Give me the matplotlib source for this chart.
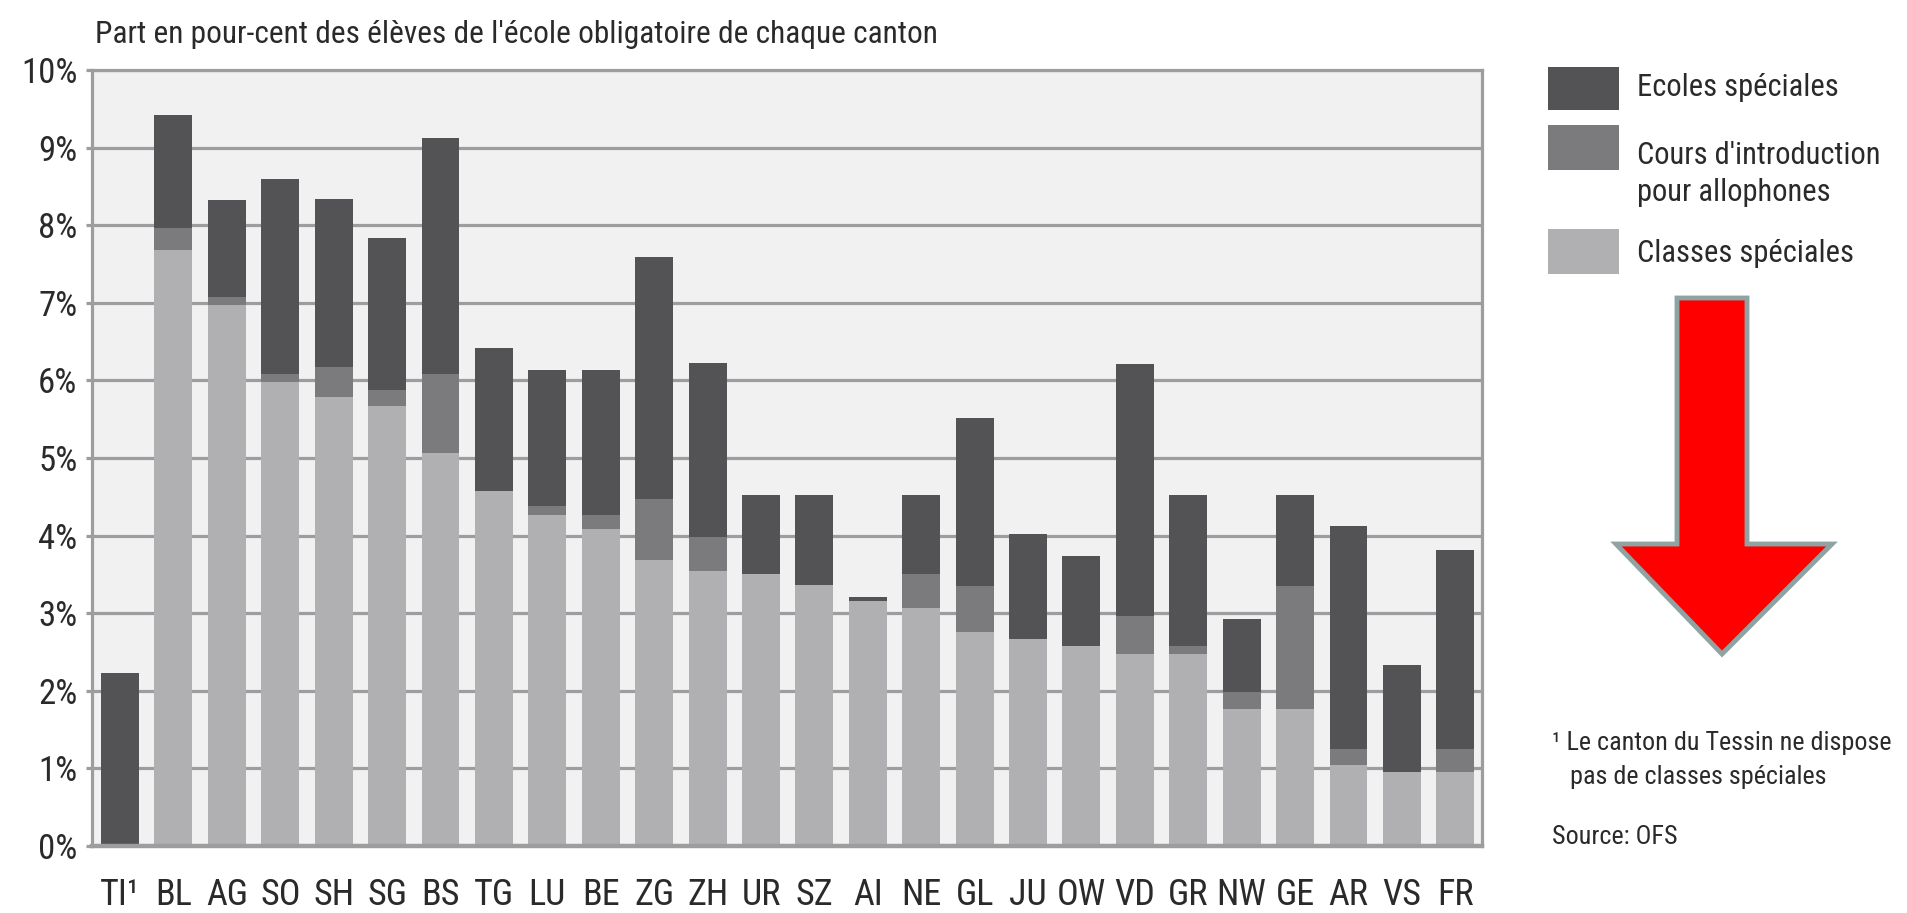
import numpy as np
import matplotlib
matplotlib.use("Agg")
import matplotlib.pyplot as plt
from matplotlib import font_manager as fm
from matplotlib.patches import Rectangle, Polygon

# ---------------- data ----------------
cantons = ["TI¹", "BL", "AG", "SO", "SH", "SG", "BS", "TG", "LU", "BE", "ZG", "ZH", "UR",
           "SZ", "AI", "NE", "GL", "JU", "OW", "VD", "GR", "NW", "GE", "AR", "VS", "FR"]
classes_speciales = [0.00, 7.68, 6.97, 5.98, 5.78, 5.67, 5.07, 4.57, 4.27, 4.08, 3.69, 3.54, 3.50,
                     3.36, 3.16, 3.07, 2.76, 2.67, 2.58, 2.47, 2.47, 1.77, 1.77, 1.05, 0.95, 0.95]
cours_allophones = [0.00, 0.29, 0.10, 0.10, 0.39, 0.20, 1.01, 0.00, 0.11, 0.19, 0.78, 0.44, 0.00,
                    0.00, 0.00, 0.43, 0.59, 0.00, 0.00, 0.50, 0.11, 0.21, 1.58, 0.20, 0.00, 0.30]
ecoles_speciales = [2.23, 1.45, 1.25, 2.52, 2.17, 1.96, 3.04, 1.85, 1.75, 1.86, 3.12, 2.24, 1.02,
                    1.16, 0.05, 1.02, 2.17, 1.35, 1.16, 3.24, 1.94, 0.94, 1.17, 2.88, 1.38, 2.56]
series_names = ["Ecoles spéciales", "Cours d'introduction\npour allophones", "Classes spéciales"]
yticks = [0, 1, 2, 3, 4, 5, 6, 7, 8, 9, 10]
ytick_labels = ["0%", "1%", "2%", "3%", "4%", "5%", "6%", "7%", "8%", "9%", "10%"]
title = "Part en pour-cent des élèves de l'école obligatoire de chaque canton"
footnote = "¹ Le canton du Tessin ne dispose\n   pas de classes spéciales"
source = "Source: OFS"

# ---------------- styling ----------------
C_DARK = "#535355"
C_MID = "#7b7b7d"
C_LIGHT = "#b0b0b2"
C_BG = "#f0f1f0"
C_GRID = "#9d9d9f"
C_TEXT = "#2a2a2a"

names = {f.name for f in fm.fontManager.ttflist}
stretch = "normal"
if "Roboto Condensed" in names:
    FONT = "Roboto Condensed"
elif "Liberation Sans Narrow" in names:
    FONT = "Liberation Sans Narrow"
elif any(f.name == "DejaVu Sans" and str(f.stretch) == "condensed" for f in fm.fontManager.ttflist):
    FONT = "DejaVu Sans"
    stretch = "condensed"
else:
    FONT = "Liberation Sans"
plt.rcParams["font.family"] = [FONT, "DejaVu Sans"]
plt.rcParams["font.stretch"] = stretch

W, H = 1908, 913
fig = plt.figure(figsize=(W / 100, H / 100), dpi=100)


def fx(px):
    return px / W


def fy(py):
    return 1 - py / H


ax = fig.add_axes([fx(92), fy(846), fx(1482) - fx(92), fy(70) - fy(846)])
ax.set_facecolor(C_BG)

x = np.arange(len(cantons))
cl = np.array(classes_speciales)
co = np.array(cours_allophones)
ec = np.array(ecoles_speciales)
bw = 0.71
ax.bar(x, cl, width=bw, color=C_LIGHT, zorder=2)
ax.bar(x, co, width=bw, bottom=cl, color=C_MID, zorder=2)
ax.bar(x, ec, width=bw, bottom=cl + co, color=C_DARK, zorder=2)

ax.set_xlim(-0.525, len(cantons) - 1 + 0.5)
ax.set_ylim(0, 10)
ax.set_yticks(yticks)
ax.set_yticklabels(ytick_labels)
ax.set_xticks(x)
ax.set_xticklabels(cantons)
ax.yaxis.grid(True, color=C_GRID, lw=2.3, zorder=1)
ax.set_axisbelow(True)
for side in ["left", "right", "top"]:
    ax.spines[side].set_color(C_GRID)
    ax.spines[side].set_linewidth(2.3)
ax.spines["bottom"].set_color(C_GRID)
ax.spines["bottom"].set_linewidth(3.2)
ax.tick_params(axis="y", direction="out", length=4.5, width=2.3, color=C_GRID,
               labelsize=25, labelcolor=C_TEXT, pad=6)
ax.tick_params(axis="x", length=0, labelsize=26, labelcolor=C_TEXT, pad=22)

# title
fig.text(fx(95), fy(43), title, fontsize=22.6, color=C_TEXT, ha="left", va="baseline")

# legend
leg_colors = [C_DARK, C_MID, C_LIGHT]
patch_y = [(67, 110), (125, 170), (229, 274)]
text_y = [88, 174, 253]
for col, (y0, y1), ty, name in zip(leg_colors, patch_y, text_y, series_names):
    fig.patches.append(Rectangle((fx(1548), fy(y1)), fx(1619) - fx(1548), fy(y0) - fy(y1),
                                 transform=fig.transFigure, facecolor=col, edgecolor="none"))
    fig.text(fx(1637), fy(ty), name, fontsize=22, color=C_TEXT, ha="left", va="center",
             linespacing=1.32)

# red arrow
arrow_px = [(1677, 298), (1747, 298), (1747, 544), (1832, 544), (1722, 654),
            (1616, 544), (1677, 544)]
fig.patches.append(Polygon([(fx(a), fy(b)) for a, b in arrow_px], closed=True,
                           transform=fig.transFigure, facecolor="#ff0000",
                           edgecolor="#8fa3a3", linewidth=3.5, joinstyle="miter"))

# footnote & source
fig.text(fx(1552), fy(760), footnote, fontsize=18.8, color=C_TEXT, ha="left", va="center",
         linespacing=1.55)
fig.text(fx(1552), fy(837), source, fontsize=18.8, color=C_TEXT, ha="left", va="center")

fig.savefig("out.png", dpi=100, facecolor="white")
